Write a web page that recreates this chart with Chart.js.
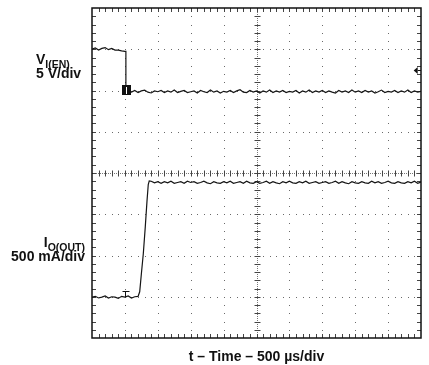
<!DOCTYPE html>
<html>
<head>
<meta charset="utf-8">
<script src="https://cdn.jsdelivr.net/npm/chart.js@4/dist/chart.umd.min.js"></script>
<style>
  body { margin: 0; background: #fff; }
  canvas { display: block; }
</style>
</head>
<body>
<canvas id="scope" width="429" height="365"></canvas>
<script>
// scope screen: 10 div across, 8 div high, values below are in divisions
const divX = 10;
const divY = 8;

// EN voltage trace (5 V/div)
const vEnTime = [
  0.0, 0.1, 0.2, 0.3, 0.4, 0.5, 0.6, 0.7, 0.8, 0.9, 1.0,
  1.03, 1.03,
  1.1, 1.2, 1.3, 1.4, 1.5, 1.6, 1.7, 1.8, 1.9, 2.0,
  2.1, 2.2, 2.3, 2.4, 2.5, 2.6, 2.7, 2.8, 2.9, 3.0,
  3.1, 3.2, 3.3, 3.4, 3.5, 3.6, 3.7, 3.8, 3.9, 4.0,
  4.1, 4.2, 4.3, 4.4, 4.5, 4.6, 4.7, 4.8, 4.9, 5.0,
  5.1, 5.2, 5.3, 5.4, 5.5, 5.6, 5.7, 5.8, 5.9, 6.0,
  6.1, 6.2, 6.3, 6.4, 6.5, 6.6, 6.7, 6.8, 6.9, 7.0,
  7.1, 7.2, 7.3, 7.4, 7.5, 7.6, 7.7, 7.8, 7.9, 8.0,
  8.1, 8.2, 8.3, 8.4, 8.5, 8.6, 8.7, 8.8, 8.9, 9.0,
  9.1, 9.2, 9.3, 9.4, 9.5, 9.6, 9.7, 9.8, 9.9, 10.0
];
const vEnDiv = [
  7.00, 7.03, 6.98, 7.02, 7.04, 6.99, 7.02, 6.98, 6.98, 6.96, 6.95,
  6.95, 5.98,
  5.98, 5.96, 6.00, 5.95, 5.99, 6.01, 5.96, 5.94, 5.99, 5.97,
  6.00, 5.95, 5.99, 5.96, 6.01, 5.95, 5.98, 6.00, 5.95, 5.97,
  5.99, 5.94, 6.00, 5.97, 5.95, 6.01, 5.96, 5.99, 5.94, 5.98,
  5.96, 6.00, 5.95, 5.99, 6.02, 5.96, 5.95, 6.00, 5.96, 5.99,
  5.94, 5.99, 5.96, 6.01, 5.95, 5.99, 5.96, 6.00, 5.95, 5.98,
  5.96, 6.00, 5.94, 5.99, 5.96, 6.01, 5.95, 5.99, 5.96, 6.00,
  5.95, 5.99, 5.96, 5.94, 6.00, 5.96, 5.99, 5.95, 6.01, 5.96,
  5.99, 5.95, 6.00, 5.96, 5.99, 5.94, 5.97, 6.01, 5.95, 5.98,
  5.96, 6.00, 5.95, 5.99, 5.96, 6.01, 5.95, 5.99, 5.96, 5.98
];

// output current trace (500 mA/div)
const ioTime = [
  0.0, 0.1, 0.2, 0.3, 0.4, 0.5, 0.6, 0.7, 0.8, 0.9, 1.0, 1.1, 1.2, 1.3, 1.4,
  1.45, 1.5, 1.56, 1.62, 1.67, 1.71, 1.74,
  1.8, 1.9, 2.0,
  2.1, 2.2, 2.3, 2.4, 2.5, 2.6, 2.7, 2.8, 2.9, 3.0,
  3.1, 3.2, 3.3, 3.4, 3.5, 3.6, 3.7, 3.8, 3.9, 4.0,
  4.1, 4.2, 4.3, 4.4, 4.5, 4.6, 4.7, 4.8, 4.9, 5.0,
  5.1, 5.2, 5.3, 5.4, 5.5, 5.6, 5.7, 5.8, 5.9, 6.0,
  6.1, 6.2, 6.3, 6.4, 6.5, 6.6, 6.7, 6.8, 6.9, 7.0,
  7.1, 7.2, 7.3, 7.4, 7.5, 7.6, 7.7, 7.8, 7.9, 8.0,
  8.1, 8.2, 8.3, 8.4, 8.5, 8.6, 8.7, 8.8, 8.9, 9.0,
  9.1, 9.2, 9.3, 9.4, 9.5, 9.6, 9.7, 9.8, 9.9, 10.0
];
const ioDiv = [
  0.99, 1.01, 0.97, 0.99, 1.02, 0.97, 1.00, 0.99, 0.96, 1.01, 0.99, 1.02, 0.97, 1.00, 1.01,
  1.12, 1.55, 2.05, 2.70, 3.30, 3.72, 3.81,
  3.80, 3.76, 3.79,
  3.75, 3.79, 3.76, 3.80, 3.75, 3.77, 3.79, 3.75, 3.80, 3.77,
  3.79, 3.75, 3.77, 3.80, 3.76, 3.74, 3.79, 3.76, 3.75, 3.79,
  3.76, 3.80, 3.75, 3.77, 3.79, 3.75, 3.80, 3.76, 3.75, 3.79,
  3.75, 3.77, 3.80, 3.75, 3.79, 3.76, 3.74, 3.79, 3.76, 3.80,
  3.76, 3.75, 3.79, 3.76, 3.80, 3.75, 3.77, 3.79, 3.75, 3.77,
  3.79, 3.75, 3.77, 3.80, 3.75, 3.79, 3.76, 3.74, 3.79, 3.76,
  3.75, 3.79, 3.76, 3.75, 3.80, 3.76, 3.79, 3.75, 3.77, 3.80,
  3.76, 3.75, 3.79, 3.76, 3.75, 3.79, 3.76, 3.80, 3.75, 3.78
];

// scope markers (in divisions)
const chMarker = [1.03, 6.02];     // channel 1 ground box
const trigT = [1.0, 0.99, 1.13];   // "T" cursor on current trace: x, bottom, top
const trigLevel = [9.9, 6.5];      // trigger level arrow on right edge

const labelFont = 'bold 14px "Liberation Sans", Arial, sans-serif';
const subFont = 'bold 10.5px "Liberation Sans", Arial, sans-serif';

function pairUp(xs, ys) {
  return xs.map((x, i) => ({ x: x, y: ys[i] }));
}

const graticule = {
  id: 'graticule',
  beforeDatasetsDraw(chart) {
    const { ctx, chartArea, scales } = chart;
    const sx = scales.x, sy = scales.y;
    ctx.save();
    // dotted major grid lines, dots on every minor step
    ctx.fillStyle = '#6a6a6a';
    for (let gx = 1; gx < divX; gx++) {
      if (gx === divX / 2) continue;
      const px = Math.round(sx.getPixelForValue(gx));
      for (let m = 1; m < divY * 5; m++) {
        ctx.fillRect(px, Math.round(sy.getPixelForValue(m / 5)), 1, 1);
      }
    }
    for (let gy = 1; gy < divY; gy++) {
      if (gy === divY / 2) continue;
      const py = Math.round(sy.getPixelForValue(gy));
      for (let m = 1; m < divX * 5; m++) {
        ctx.fillRect(Math.round(sx.getPixelForValue(m / 5)), py, 1, 1);
      }
    }
    // centre cross with minor ticks
    const cx = Math.round(sx.getPixelForValue(divX / 2)) + 0.5;
    const cy = Math.round(sy.getPixelForValue(divY / 2)) + 0.5;
    ctx.strokeStyle = '#777';
    ctx.lineWidth = 1;
    ctx.setLineDash([1, 1]);
    ctx.beginPath();
    ctx.moveTo(cx, chartArea.top); ctx.lineTo(cx, chartArea.bottom);
    ctx.moveTo(chartArea.left, cy); ctx.lineTo(chartArea.right, cy);
    ctx.stroke();
    ctx.setLineDash([]);
    ctx.strokeStyle = '#444';
    ctx.beginPath();
    for (let m = 1; m < divX * 5; m++) {
      const px = Math.round(sx.getPixelForValue(m / 5)) + 0.5;
      ctx.moveTo(px, cy - 3); ctx.lineTo(px, cy + 3);
      // border ticks top and bottom
      ctx.moveTo(px, chartArea.top); ctx.lineTo(px, chartArea.top + 4);
      ctx.moveTo(px, chartArea.bottom); ctx.lineTo(px, chartArea.bottom - 4);
    }
    for (let m = 1; m < divY * 5; m++) {
      const py = Math.round(sy.getPixelForValue(m / 5)) + 0.5;
      ctx.moveTo(cx - 3, py); ctx.lineTo(cx + 3, py);
      ctx.moveTo(chartArea.left, py); ctx.lineTo(chartArea.left + 4, py);
      ctx.moveTo(chartArea.right, py); ctx.lineTo(chartArea.right - 4, py);
    }
    ctx.stroke();
    ctx.restore();
  },
  afterDatasetsDraw(chart) {
    const { ctx, chartArea, scales } = chart;
    const sx = scales.x, sy = scales.y;
    ctx.save();
    // frame
    ctx.strokeStyle = '#111';
    ctx.lineWidth = 1.5;
    ctx.strokeRect(chartArea.left, chartArea.top,
      chartArea.right - chartArea.left, chartArea.bottom - chartArea.top);

    // channel box marker
    const bx = Math.round(sx.getPixelForValue(chMarker[0]));
    const by = Math.round(sy.getPixelForValue(chMarker[1]));
    ctx.fillStyle = '#111';
    ctx.fillRect(bx - 4, by - 5, 9, 10);
    ctx.fillStyle = '#fff';
    ctx.fillRect(bx, by - 3, 1, 7);

    // T cursor
    const tx = Math.round(sx.getPixelForValue(trigT[0])) + 0.5;
    const tb = sy.getPixelForValue(trigT[1]);
    const tt = Math.round(sy.getPixelForValue(trigT[2])) + 0.5;
    ctx.strokeStyle = '#111';
    ctx.lineWidth = 1;
    ctx.beginPath();
    ctx.moveTo(tx - 3, tt); ctx.lineTo(tx + 4, tt);
    ctx.moveTo(tx, tt); ctx.lineTo(tx, tb);
    ctx.stroke();

    // trigger level arrow
    const ax = sx.getPixelForValue(trigLevel[0]);
    const ay = Math.round(sy.getPixelForValue(trigLevel[1]));
    ctx.fillStyle = '#111';
    ctx.beginPath();
    ctx.moveTo(ax - 4, ay + 0.5);
    ctx.lineTo(ax, ay - 3);
    ctx.lineTo(ax, ay + 4);
    ctx.closePath();
    ctx.fill();
    ctx.fillRect(ax, ay, chartArea.right - ax, 1);
    ctx.restore();
  },
  afterDraw(chart) {
    const { ctx, chartArea } = chart;
    ctx.save();
    ctx.fillStyle = '#111';
    ctx.textAlign = 'left';
    ctx.textBaseline = 'alphabetic';

    // EN voltage label
    ctx.font = labelFont;
    ctx.fillText('V', 36, 64);
    const vw = ctx.measureText('V').width;
    ctx.font = subFont;
    ctx.fillText('I(EN)', 36 + vw, 68);
    ctx.font = labelFont;
    ctx.fillText('5 V/div', 36, 78);

    // output current label, right aligned
    const right = 85;
    ctx.font = subFont;
    const sw = ctx.measureText('O(OUT)').width;
    ctx.fillText('O(OUT)', right - sw, 251);
    ctx.font = labelFont;
    ctx.textAlign = 'right';
    ctx.fillText('I', right - sw, 247);
    ctx.fillText('500 mA/div', right, 261);

    // time axis title
    ctx.textAlign = 'center';
    ctx.fillText('t \u2013 Time \u2013 500 \u00b5s/div', (chartArea.left + chartArea.right) / 2, 361);
    ctx.restore();
  }
};

const traceStyle = {
  borderColor: '#151515',
  borderWidth: 1.2,
  pointRadius: 0,
  tension: 0,
  fill: false
};

new Chart(document.getElementById('scope'), {
  type: 'line',
  data: {
    datasets: [
      Object.assign({ label: 'VI(EN)', data: pairUp(vEnTime, vEnDiv) }, traceStyle),
      Object.assign({ label: 'IO(OUT)', data: pairUp(ioTime, ioDiv) }, traceStyle)
    ]
  },
  options: {
    responsive: false,
    animation: false,
    events: [],
    layout: { padding: { left: 92, right: 8, top: 8, bottom: 27 } },
    plugins: {
      legend: { display: false },
      tooltip: { enabled: false }
    },
    scales: {
      x: { type: 'linear', min: 0, max: divX, display: false },
      y: { type: 'linear', min: 0, max: divY, display: false }
    }
  },
  plugins: [graticule]
});
</script>
</body>
</html>
